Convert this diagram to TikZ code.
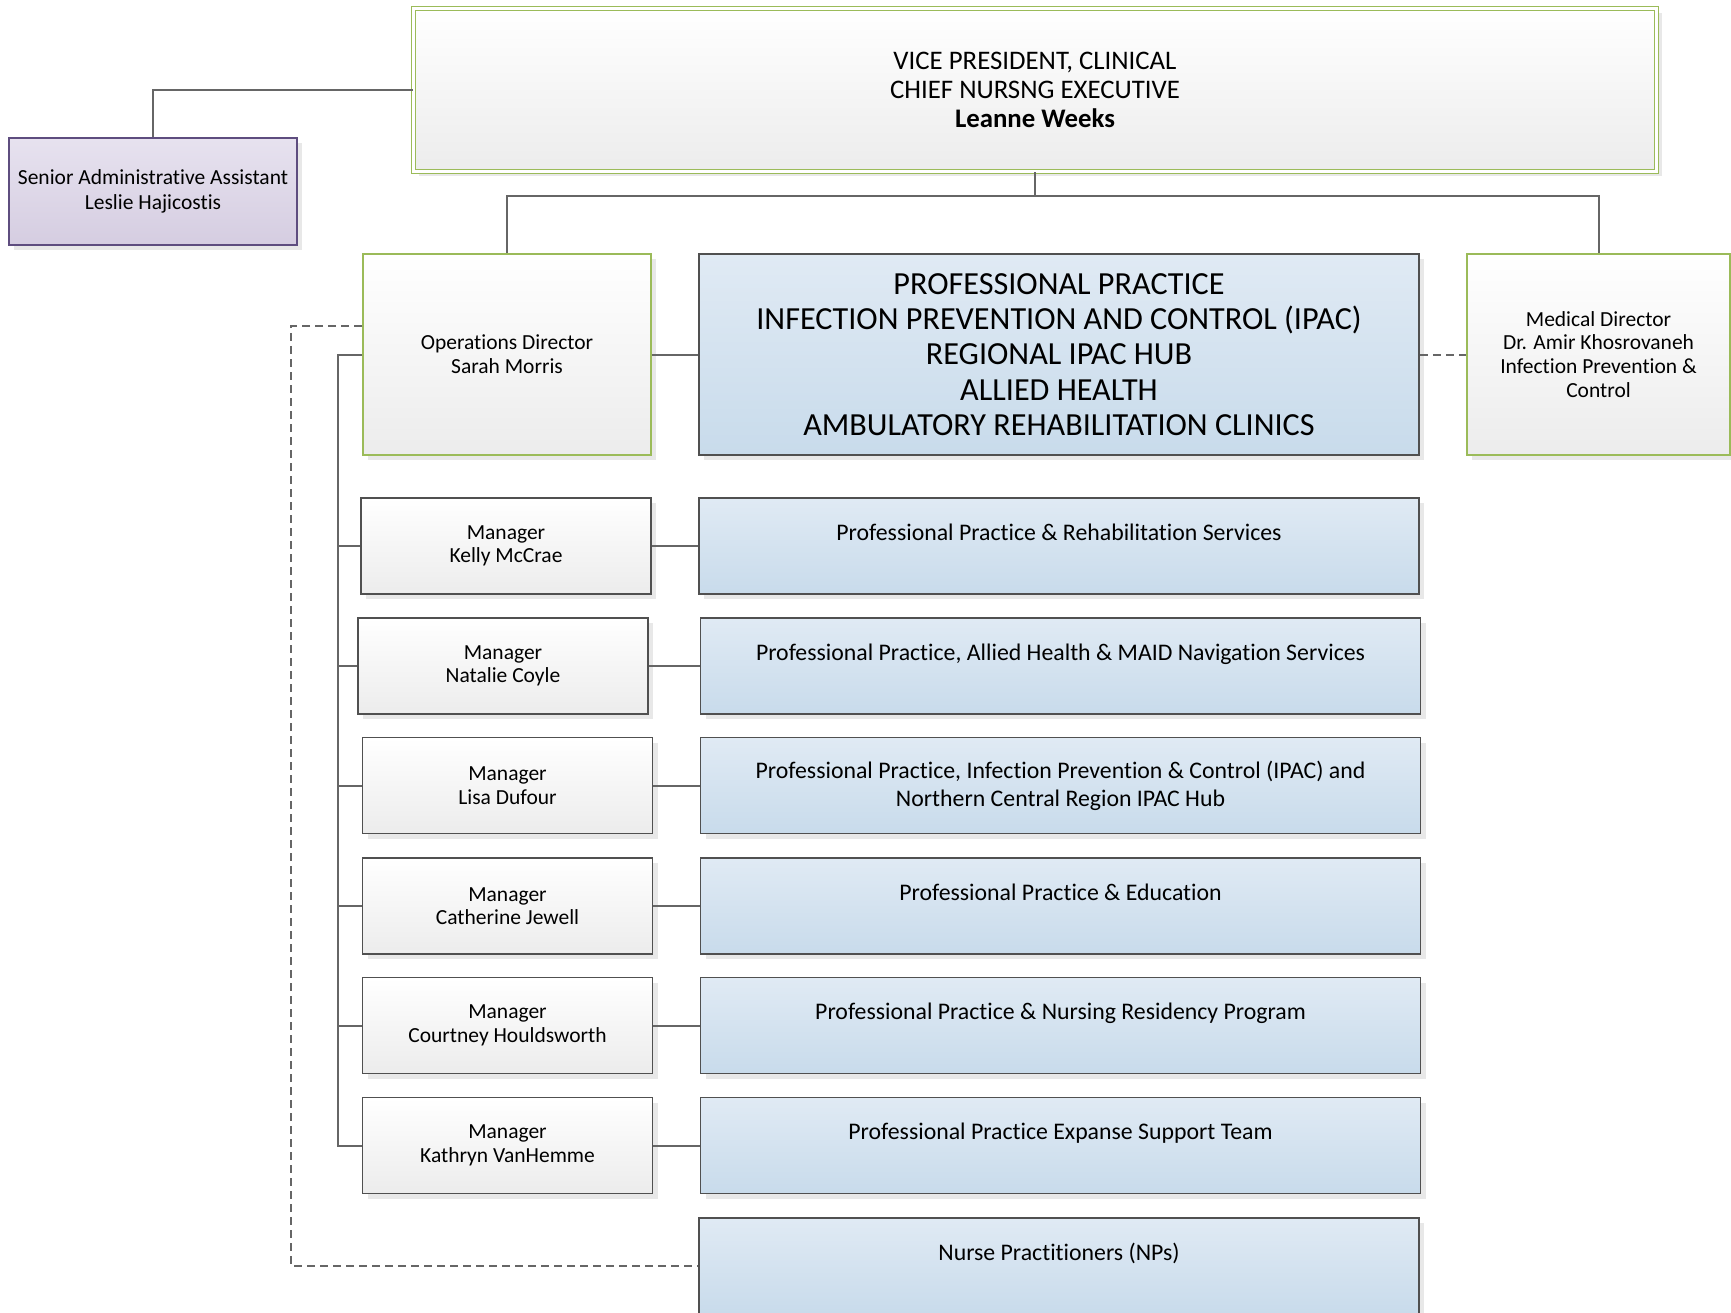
\documentclass[tikz,border=0pt]{standalone}
\usepackage{fontspec}
\setmainfont[RawFeature={-liga;-clig;-calt;-dlig}]{Carlito}
\usetikzlibrary{shadows,calc,positioning}
\definecolor{framegray}{HTML}{505050}
\definecolor{linegray}{HTML}{666666}
\definecolor{leafgreen}{HTML}{9BBB59}
\definecolor{bluetop}{HTML}{E0EAF4}
\definecolor{bluebot}{HTML}{C8DBEB}
\definecolor{graybot}{HTML}{ECECEC}
\definecolor{lilactop}{HTML}{E7E2EF}
\definecolor{lilacbot}{HTML}{D5CDE1}
\definecolor{lilacframe}{HTML}{5E4D7F}
\tikzset{
card/.style={line width=1.8pt,inner sep=4pt,align=center,
  drop shadow={shadow xshift=5pt,shadow yshift=-5pt,fill=black!9,opacity=1}},
unitbox/.style={card,draw=framegray,top color=bluetop,bottom color=bluebot,
  minimum width=720pt,minimum height=96pt,font=\fontsize{23.8}{28}\selectfont},
mgrbox/.style={card,draw=framegray,top color=white,bottom color=graybot,
  minimum width=290pt,minimum height=96pt,font=\fontsize{21.5}{23.5}\selectfont},
leadbox/.style={card,draw=leafgreen,top color=white,bottom color=graybot,
  font=\fontsize{21.5}{23.8}\selectfont},
link/.style={draw=linegray,line width=2pt},
dashlink/.style={link,dash pattern=on 8pt off 5pt}
}
\begin{document}
\begin{tikzpicture}[x=1pt,y=-1pt]
			\useasboundingbox (0,0) rectangle (1731,1313);
			
			%top level
			\node[card,draw=leafgreen,line width=1.2pt,double=white,double distance=3pt,
			  top color=white,bottom color=graybot,minimum width=1243pt,minimum height=163pt,
			  font=\fontsize{26.8}{29.2}\selectfont] (vp) at (1035,90)
			  {VICE PRESIDENT, CLINICAL\\CHIEF NURSNG EXECUTIVE\\\textbf{Leanne Weeks}};
			\node[card,draw=lilacframe,top color=lilactop,bottom color=lilacbot,
			  minimum width=288pt,minimum height=107pt,font=\fontsize{21.5}{24.3}\selectfont] (adm) at (153,191.5)
			  {Senior Administrative Assistant\\Leslie Hajicostis};
			
			%directors and portfolio
			\node[leadbox,minimum width=288pt,minimum height=201pt] (ops) at (507,354.5)
			  {Operations Director\\Sarah Morris};
			\node[unitbox,minimum height=201pt,font=\fontsize{32.2}{35.3}\selectfont] (area) at (1059,354.5)
			  {PROFESSIONAL PRACTICE\\INFECTION PREVENTION AND CONTROL (IPAC)\\REGIONAL IPAC HUB\\ALLIED HEALTH\\AMBULATORY REHABILITATION CLINICS};
			\node[leadbox,minimum width=263pt,minimum height=201pt] (med) at (1598.5,354.5)
			  {Medical Director\\Dr. Amir Khosrovaneh\\Infection Prevention \&\\Control};
			
			%managers
			\node[mgrbox] (mgr1) at (506,546) {Manager\\Kelly McCrae};
			\node[mgrbox] (mgr2) at (503,666) {Manager\\Natalie Coyle};
			\node[mgrbox] (mgr3) at (507.5,785.5) {Manager\\Lisa Dufour};
			\node[mgrbox] (mgr4) at (507.5,906) {Manager\\Catherine Jewell};
			\node[mgrbox] (mgr5) at (507.5,1025.5) {Manager\\Courtney Houldsworth};
			\node[mgrbox] (mgr6) at (507.5,1145.5) {Manager\\Kathryn VanHemme};
			
			%services
			\node[unitbox] (unit1) at (1059,546) {Professional Practice \& Rehabilitation Services\\\mbox{}};
			\node[unitbox] (unit2) at (1060.5,666) {Professional Practice, Allied Health \& MAID Navigation Services\\\mbox{}};
			\node[unitbox] (unit3) at (1060.5,785.5) {Professional Practice, Infection Prevention \& Control (IPAC) and\\Northern Central Region IPAC Hub};
			\node[unitbox] (unit4) at (1060.5,906) {Professional Practice \& Education\\\mbox{}};
			\node[unitbox] (unit5) at (1060.5,1025.5) {Professional Practice \& Nursing Residency Program\\\mbox{}};
			\node[unitbox] (unit6) at (1060.5,1145.5) {Professional Practice Expanse Support Team\\\mbox{}};
			\node[unitbox] (np) at (1059,1266) {Nurse Practitioners (NPs)\\\mbox{}};
			
			%reporting lines
			\coordinate (bus) at ($(vp.south)+(0,24)$);
			\draw[link] (adm.north) |- (vp.west);
			\draw[link] (vp.south) -- (bus);
			\draw[link] (ops.north) |- (bus) -| (med.north);
			\draw[link] (ops.east) -- (area.west);
			\draw[dashlink] (area.east) -- (med.west);
			
			\coordinate (spine) at ($(ops.west)+(-24,0)$);
			\draw[link] (ops.west) -- (spine) |- (mgr6.west);
			\draw[link] (spine |- mgr1.west) -- (mgr1.west);
			\draw[link] (spine |- mgr2.west) -- (mgr2.west);
			\draw[link] (spine |- mgr3.west) -- (mgr3.west);
			\draw[link] (spine |- mgr4.west) -- (mgr4.west);
			\draw[link] (spine |- mgr5.west) -- (mgr5.west);
			
			\draw[link] (mgr1.east) -- (unit1.west);
			\draw[link] (mgr2.east) -- (unit2.west);
			\draw[link] (mgr3.east) -- (unit3.west);
			\draw[link] (mgr4.east) -- (unit4.west);
			\draw[link] (mgr5.east) -- (unit5.west);
			\draw[link] (mgr6.east) -- (unit6.west);
			
			\coordinate (dashstart) at ($(ops.west)+(0,-28.5)$);
			\draw[dashlink] (dashstart) -- ++(-71,0) |- (np.west);
			
\end{tikzpicture}
\end{document}
